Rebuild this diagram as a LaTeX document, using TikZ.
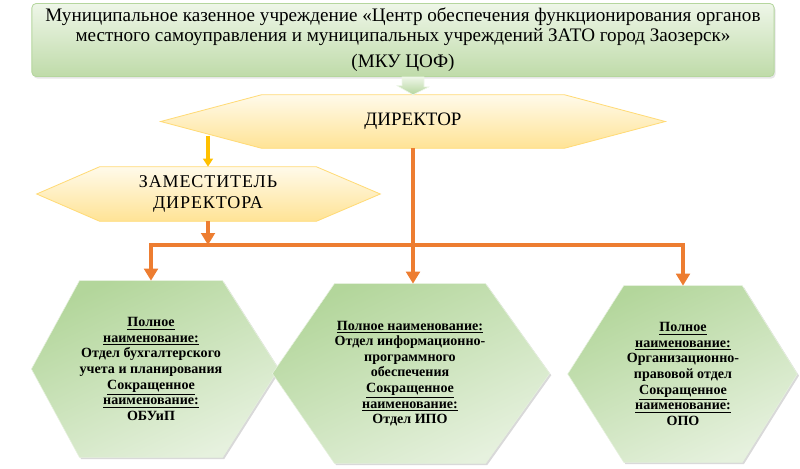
\documentclass[tikz,border=0pt]{standalone}
\usepackage{fontspec}
\setmainfont{Liberation Serif}
\usetikzlibrary{arrows.meta,positioning,calc,backgrounds,shadows}

\definecolor{grnlt}{HTML}{EEF6E8}
\definecolor{grndk}{HTML}{BFDBA9}
\definecolor{grnln}{HTML}{B5D69E}
\definecolor{ylwlt}{HTML}{FFFAEA}
\definecolor{ylwdk}{HTML}{FFE395}
\definecolor{ylwln}{HTML}{FFDB78}
\definecolor{hexlt}{HTML}{E6F1DE}
\definecolor{hexdk}{HTML}{B3D69B}
\definecolor{orng}{HTML}{ED7D31}
\definecolor{gold}{HTML}{FFC000}

\begin{document}
\begin{tikzpicture}[x=0.025cm, y=-0.025cm,
  topbox/.style={rounded corners=3pt, draw=grnln, line width=0.6pt,
                 top color=grnlt, bottom color=grndk, align=center,
                 drop shadow={opacity=0.2, shadow xshift=1pt, shadow yshift=-1.5pt},
                 font=\fontsize{13.6}{13.8}\selectfont},
  flat/.style={inner sep=0pt, align=center},
  yhex/.style={draw=ylwln, line width=0.6pt, top color=ylwlt, bottom color=ylwdk},
  ghex/.style={draw=hexlt, line width=0.4pt, top color=hexdk, bottom color=hexlt,
               shading angle=25,
               drop shadow={opacity=0.3, shadow xshift=1.2pt, shadow yshift=-1.2pt}},
  deptxt/.style={font=\fontsize{12.8}{14.5}\selectfont\addfontfeature{LetterSpace=5}},
  unit/.style={font=\bfseries\fontsize{10}{11.1}\selectfont},
  oarr/.style={draw=orng, line width=2.6pt,
               -{Triangle[width=0.34cm, length=0.3cm]}},
  yarr/.style={draw=gold, line width=2.6pt,
               -{Triangle[width=0.24cm, length=0.2cm]}},
  garr/.style={draw=grnlt, line width=0.4pt, top color=grnlt, bottom color=grnln}
]
\useasboundingbox (0,0) rectangle (800,468);

% organisation
\node[topbox, minimum width=18.55cm, minimum height=1.8cm] (mku) at (403,40)
  {Муниципальное казенное учреждение «Центр обеспечения функционирования органов\\
   местного самоуправления и муниципальных учреждений ЗАТО город Заозерск»\\[5pt]
   (МКУ ЦОФ)};

% management
\node[flat, minimum width=7.55cm, minimum height=1.325cm,
      font=\fontsize{13.5}{15}\selectfont] (dir) at (413,121.5) {ДИРЕКТОР};
\node[flat, deptxt, minimum width=5.4cm, minimum height=1.35cm] (dep) at (208,194)
  {ЗАМЕСТИТЕЛЬ\\ДИРЕКТОРА};

% departments
\node[flat, unit, minimum width=2.925cm, minimum height=4.4cm] (obuip) at (151,369)
  {\underline{Полное}\\\underline{наименование:}\\Отдел бухгалтерского\\учета и планирования\\
   \underline{Сокращенное}\\\underline{наименование:}\\ОБУиП};
\node[flat, unit, minimum width=3.325cm, minimum height=4.475cm] (ipo) at (410,373.5)
  {\underline{Полное наименование:}\\Отдел информационно-\\программного\\обеспечения\\
   \underline{Сокращенное}\\\underline{наименование:}\\Отдел ИПО};
\node[flat, unit, minimum width=2.95cm, minimum height=4.4cm] (opo) at (683,374)
  {\underline{Полное}\\\underline{наименование:}\\Организационно-\\правовой отдел\\
   \underline{Сокращенное}\\\underline{наименование:}\\ОПО};

\begin{scope}[on background layer]
  \shade[yhex] (dir.north west) -- (dir.north east) -- ($(dir.east)+(101,0)$)
    -- (dir.south east) -- (dir.south west) -- ($(dir.west)-(101,0)$) -- cycle;
  \shade[yhex] (dep.north west) -- (dep.north east) -- ($(dep.east)+(64,0)$)
    -- (dep.south east) -- (dep.south west) -- ($(dep.west)-(63,0)$) -- cycle;
  \shade[ghex] (obuip.north west) -- (obuip.north east) -- ($(obuip.east)+(56,0)$)
    -- (obuip.south east) -- (obuip.south west) -- ($(obuip.west)-(48,0)$) -- cycle;
  \shade[ghex] (ipo.north west) -- (ipo.north east) -- ($(ipo.east)+(64,0)$)
    -- (ipo.south east) -- (ipo.south west) -- ($(ipo.west)-(62,0)$) -- cycle;
  \shade[ghex] (opo.north west) -- (opo.north east) -- ($(opo.east)+(55,0)$)
    -- (opo.south east) -- (opo.south west) -- ($(opo.west)-(56,0)$) -- cycle;
\end{scope}

% links
\shade[garr] ($(mku.south -| dir.north)+(-11,0)$) -- ++(22,0) -- ++(0,10) -- ++(5,0)
  -- (dir.north) -- ++(-16,-9) -- ++(5,0) -- cycle;
\draw[yarr] ($(dep.north)+(0,-31)$) -- (dep.north);

\coordinate (bus) at (0,245);
\draw[oarr] (dir.south) -- (dir.south |- ipo.north);
\draw[oarr] (dep.south) -- (dep.south |- bus);
\draw[oarr] (dir.south |- bus) -- (obuip.north |- bus) -- (obuip.north);
\draw[oarr] (dir.south |- bus) -- (opo.north |- bus) -- (opo.north);
\end{tikzpicture}
\end{document}
